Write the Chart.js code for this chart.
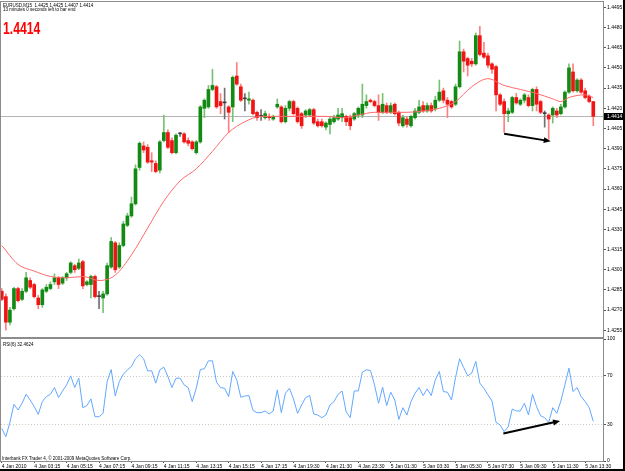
<!DOCTYPE html>
<html>
<head>
<meta charset="utf-8">
<title>EURUSD,M15</title>
<script src="https://cdn.jsdelivr.net/npm/chart.js@4.4.1/dist/chart.umd.min.js"></script>
<style>
  html, body { margin: 0; padding: 0; background: #fff; }
  #wrap { position: relative; width: 625px; height: 471px; overflow: hidden; background: #fff; font-family: "Liberation Sans", Arial, sans-serif; }
  #wrap canvas { position: absolute; left: 0; }
  #priceChart { top: 0; }
  #rsiChart { top: 330px; }
  .txt { position: absolute; font-size: 5px; line-height: 6px; color: #000; white-space: nowrap; transform: scaleX(0.9); transform-origin: 0 0; }
  #bigPrice { position: absolute; left: 3px; top: 21px; font-size: 16px; line-height: 16px; font-weight: bold; color: #f00; transform: scaleX(0.76); transform-origin: 0 0; }
  #frame { position: absolute; left: 0; top: 0; width: 623px; height: 469px; border-right: 2px solid #000; border-bottom: 2px solid #000; pointer-events: none; }
</style>
</head>
<body>
<div id="wrap">
  <canvas id="priceChart" width="625" height="339"></canvas>
  <canvas id="rsiChart" width="625" height="141"></canvas>
  <div class="txt" id="header" style="left:3px;top:1.6px"></div>
  <div class="txt" style="left:3px;top:6.2px">13 minutes 0 seconds left to bar end</div>
  <div id="bigPrice"></div>
  <div class="txt" id="rsiLabel" style="left:3px;top:340.6px"></div>
  <div class="txt" style="left:2px;top:454.6px">Interbank FX Trader 4, © 2001-2009 MetaQuotes Software Corp.</div>
  <div id="frame"></div>
</div>
<script>
const symbol = 'EURUSD';
const period = 'M15';

// M15 bars, 4 Jan 2010 00:00 .. 5 Jan 14:00
const opens = [
  1.4284,1.4280,1.4261,1.4271,1.4286,1.4278,1.4284,1.4292,1.4289,1.4279,1.4274,1.4284,
  1.4286,1.4291,1.4294,1.4290,1.4294,1.4298,1.4303,1.4301,1.4306,1.4289,1.4289,1.4295,
  1.4280,1.4279,1.4282,1.4302,1.4320,1.4302,1.4318,1.4333,1.4340,1.4349,1.4376,1.4392,
  1.4391,1.4381,1.4379,1.4374,1.4396,1.4402,1.4396,1.4387,1.4401,1.4401,1.4396,1.4395,
  1.4387,1.4395,1.4420,1.4421,1.4434,1.4436,1.4425,1.4424,1.4421,1.4421,1.4444,1.4436,
  1.4427,1.4426,1.4426,1.4417,1.4414,1.4413,1.4414,1.4412,1.4421,1.4421,1.4410,1.4420,
  1.4425,1.4420,1.4416,1.4415,1.4415,1.4419,1.4410,1.4410,1.4406,1.4408,1.4410,1.4412,
  1.4413,1.4414,1.4413,1.4412,1.4415,1.4415,1.4422,1.4426,1.4425,1.4422,1.4417,1.4422,
  1.4417,1.4423,1.4417,1.4407,1.4412,1.4407,1.4413,1.4417,1.4422,1.4418,1.4422,1.4420,
  1.4426,1.4433,1.4426,1.4425,1.4423,1.4436,1.4462,1.4457,1.4455,1.4453,1.4474,1.4461,
  1.4459,1.4453,1.4451,1.4430,1.4425,1.4416,1.4417,1.4428,1.4423,1.4426,1.4428,1.4422,
  1.4434,1.4425,1.4416,1.4415,1.4415,1.4418,1.4416,1.4421,1.4432,1.4447,1.4433,1.4441,
  1.4433,1.4429,1.4425
];
const highs = [
  1.4286,1.4282,1.4272,1.4287,1.4287,1.4286,1.4298,1.4294,1.4290,1.4281,1.4286,1.4289,
  1.4291,1.4297,1.4295,1.4295,1.4298,1.4306,1.4304,1.4308,1.4307,1.4292,1.4296,1.4296,
  1.4284,1.4284,1.4305,1.4324,1.4321,1.4320,1.4336,1.4342,1.4354,1.4378,1.4395,1.4395,
  1.4393,1.4387,1.4381,1.4396,1.4415,1.4404,1.4398,1.4401,1.4402,1.4402,1.4398,1.4396,
  1.4396,1.4422,1.4427,1.4437,1.4449,1.4437,1.4431,1.4435,1.4422,1.4444,1.4454,1.4438,
  1.4431,1.4432,1.4427,1.4418,1.4419,1.4418,1.4416,1.4415,1.4427,1.4422,1.4422,1.4426,
  1.4426,1.4421,1.4417,1.4419,1.4420,1.4420,1.4412,1.4412,1.4410,1.4413,1.4415,1.4420,
  1.4420,1.4415,1.4415,1.4417,1.4421,1.4438,1.4430,1.4427,1.4426,1.4430,1.4431,1.4424,
  1.4424,1.4424,1.4418,1.4415,1.4414,1.4415,1.4420,1.4426,1.4425,1.4424,1.4424,1.4429,
  1.4441,1.4435,1.4428,1.4426,1.4438,1.4470,1.4464,1.4458,1.4457,1.4476,1.4481,1.4469,
  1.4461,1.4454,1.4452,1.4431,1.4427,1.4420,1.4429,1.4431,1.4427,1.4431,1.4430,1.4435,
  1.4436,1.4426,1.4418,1.4416,1.4421,1.4420,1.4423,1.4433,1.4453,1.4453,1.4442,1.4442,
  1.4435,1.4430,1.4425
];
const lows = [
  1.4277,1.4255,1.4259,1.4270,1.4276,1.4277,1.4283,1.4286,1.4279,1.4271,1.4272,1.4283,
  1.4285,1.4289,1.4286,1.4289,1.4292,1.4297,1.4298,1.4300,1.4286,1.4288,1.4279,1.4279,
  1.4271,1.4268,1.4281,1.4301,1.4298,1.4301,1.4317,1.4332,1.4339,1.4348,1.4374,1.4387,
  1.4379,1.4373,1.4372,1.4372,1.4395,1.4390,1.4386,1.4386,1.4399,1.4394,1.4392,1.4389,
  1.4386,1.4394,1.4413,1.4420,1.4433,1.4420,1.4416,1.4412,1.4402,1.4410,1.4437,1.4425,
  1.4418,1.4423,1.4415,1.4411,1.4411,1.4412,1.4411,1.4411,1.4420,1.4409,1.4409,1.4418,
  1.4415,1.4409,1.4405,1.4413,1.4414,1.4408,1.4406,1.4406,1.4404,1.4401,1.4409,1.4411,
  1.4410,1.4407,1.4404,1.4411,1.4413,1.4413,1.4420,1.4424,1.4421,1.4411,1.4416,1.4416,
  1.4416,1.4415,1.4407,1.4406,1.4406,1.4406,1.4412,1.4416,1.4417,1.4417,1.4417,1.4418,
  1.4425,1.4424,1.4413,1.4420,1.4422,1.4435,1.4447,1.4444,1.4451,1.4452,1.4459,1.4457,
  1.4450,1.4446,1.4418,1.4422,1.4402,1.4410,1.4416,1.4423,1.4422,1.4424,1.4421,1.4418,
  1.4418,1.4416,1.4406,1.4397,1.4409,1.4413,1.4415,1.4420,1.4431,1.4432,1.4432,1.4431,
  1.4427,1.4424,1.4407
];
const closes = [
  1.4278,1.4261,1.4270,1.4286,1.4277,1.4284,1.4294,1.4287,1.4280,1.4274,1.4285,1.4287,
  1.4289,1.4294,1.4289,1.4294,1.4297,1.4305,1.4300,1.4305,1.4288,1.4291,1.4295,1.4280,
  1.4280,1.4282,1.4303,1.4321,1.4300,1.4318,1.4334,1.4340,1.4349,1.4375,1.4394,1.4389,
  1.4380,1.4380,1.4373,1.4395,1.4402,1.4391,1.4387,1.4400,1.4401,1.4395,1.4394,1.4390,
  1.4395,1.4421,1.4426,1.4434,1.4437,1.4421,1.4422,1.4424,1.4417,1.4443,1.4438,1.4426,
  1.4427,1.4427,1.4416,1.4413,1.4414,1.4416,1.4413,1.4414,1.4423,1.4410,1.4420,1.4425,
  1.4416,1.4410,1.4407,1.4418,1.4419,1.4409,1.4407,1.4407,1.4409,1.4412,1.4413,1.4415,
  1.4416,1.4410,1.4407,1.4416,1.4420,1.4423,1.4425,1.4425,1.4422,1.4417,1.4423,1.4417,
  1.4422,1.4416,1.4409,1.4413,1.4408,1.4414,1.4418,1.4421,1.4418,1.4422,1.4418,1.4426,
  1.4432,1.4426,1.4423,1.4421,1.4436,1.4462,1.4455,1.4452,1.4453,1.4474,1.4460,1.4458,
  1.4452,1.4449,1.4430,1.4423,1.4416,1.4418,1.4428,1.4424,1.4426,1.4430,1.4422,1.4434,
  1.4423,1.4417,1.4416,1.4412,1.4420,1.4415,1.4421,1.4432,1.4450,1.4433,1.4441,1.4432,
  1.4428,1.4425,1.4414
];

// moving average, read at every few bars
const maBars = [0,4,8,12,16,20,24,28,32,36,40,44,48,52,56,60,64,68,72,76,80,84,88,92,96,100,104,108,112,116,120,124,128,132,136,138,140,144,146];
const maValues = [1.4318,1.4304,1.4299,1.4295,1.4294,1.4295,1.4292,1.4296,1.4311,1.4331,1.4351,1.4366,1.4375,1.4388,1.4402,1.4410,1.4414,1.4414,1.4414,1.4414,1.4414,1.4413,1.4415,1.4417,1.4417,1.4417,1.4418,1.4420,1.4425,1.4436,1.4442,1.4437,1.4434,1.4431,1.4427,1.4425,1.4428,1.4430,1.4428];

// RSI(6)
const rsiValues = [
  26.7,19.9,31.7,46.5,41.8,47.3,54.7,50.0,44.6,38.2,48.7,52.8,
  54.7,60.2,52.0,57.4,62.4,69.8,60.2,67.9,43.7,45.4,50.9,36.3,
  36.3,39.1,65.1,75.0,53.3,65.1,71.2,74.7,77.5,83.8,87.1,83.8,
  73.9,73.9,63.8,74.7,76.9,69.2,60.2,67.9,67.9,62.4,60.2,48.7,
  59.6,75.0,75.6,82.1,82.1,64.6,60.2,59.6,52.8,73.4,66.5,52.2,
  53.3,53.6,41.5,39.6,39.6,41.0,38.5,41.0,58.3,39.6,55.5,59.6,
  50.9,39.1,45.9,52.0,53.6,38.5,37.7,35.5,37.7,45.9,48.7,54.7,
  57.4,40.4,35.5,57.4,57.4,72.8,74.7,74.2,62.4,47.3,60.5,45.4,
  56.4,50.0,34.1,43.7,37.7,48.7,55.5,60.2,53.6,59.1,53.6,66.5,
  73.4,56.9,56.4,50.0,68.4,83.8,76.7,69.8,72.0,81.6,63.8,59.6,
  54.2,49.2,31.7,29.5,24.0,28.1,42.6,41.0,41.0,47.3,37.7,54.7,
  44.6,37.1,35.5,31.7,43.7,39.1,49.2,62.4,76.1,56.9,60.2,52.8,
  48.7,43.7,32.4624
];
const rsiLevels = [70, 30];

const priceTicks = [1.4255,1.4270,1.4285,1.4300,1.4315,1.4330,1.4345,1.4360,1.4375,1.4390,1.4405,1.4420,1.4435,1.4450,1.4465,1.4480,1.4495];
const rsiTicks = [0, 30, 70, 100];
const tickBars = [0,8,16,24,32,40,48,56,64,72,80,88,96,104,112,120,128,136,144];
const tickLabels = ['4 Jan 2010','4 Jan 03:15','4 Jan 05:15','4 Jan 07:15','4 Jan 09:15','4 Jan 11:15','4 Jan 13:15','4 Jan 15:15','4 Jan 17:15','4 Jan 19:30','4 Jan 21:30','4 Jan 23:30','5 Jan 01:30','5 Jan 03:30','5 Jan 05:30','5 Jan 07:30','5 Jan 09:30','5 Jan 11:30','5 Jan 13:30'];

// hand drawn arrows (bar index, value)
const priceArrow = [[124, 1.4401], [135.5, 1.43955]];
const rsiArrow = [[123.8, 22.6], [137.8, 32.8]];

const xMin = -0.2, xMax = 148.4;
const last = closes.length - 1;
const lastClose = closes[last];

Chart.defaults.font.family = '"Liberation Sans", Arial, sans-serif';
Chart.defaults.color = '#000';

function candleColor(i, bull, bear, flat) {
  if (closes[i] > opens[i]) return bull;
  if (closes[i] < opens[i]) return bear;
  return flat;
}

function drawArrow(ctx, x0, y0, x1, y1) {
  const a = Math.atan2(y1 - y0, x1 - x0);
  const c = Math.cos(a), s = Math.sin(a);
  ctx.strokeStyle = '#000';
  ctx.fillStyle = '#000';
  ctx.lineWidth = 2;
  ctx.beginPath();
  ctx.moveTo(x0, y0);
  ctx.lineTo(x1 - 4 * c, y1 - 4 * s);
  ctx.stroke();
  ctx.beginPath();
  ctx.moveTo(x1, y1);
  ctx.lineTo(x1 - 7 * c + 3 * s, y1 - 7 * s - 3 * c);
  ctx.lineTo(x1 - 7 * c - 3 * s, y1 - 7 * s + 3 * c);
  ctx.closePath();
  ctx.fill();
}

function frame(ctx, a) {
  ctx.strokeStyle = '#8c8c8c';
  ctx.lineWidth = 1;
  ctx.strokeRect(a.left - 0.5, a.top - 0.5, a.right - a.left + 1, a.bottom - a.top + 1);
}

const xScale = (show) => ({
  type: 'linear',
  display: show,
  min: xMin,
  max: xMax,
  offset: false,
  afterBuildTicks: axis => { axis.ticks = tickBars.map(v => ({ value: v })); },
  afterFit: s => {
    if (!show) return;
    s.height = 10; s.paddingLeft = 0; s.paddingRight = 0;
  },
  border: { display: false },
  grid: { drawOnChartArea: false, offset: false, tickLength: 2, color: '#555' },
  ticks: {
    font: { size: 5 }, align: 'start', maxRotation: 0, autoSkip: false, padding: 1,
    callback: (v, i) => tickLabels[i]
  }
});

const yAxis = (extra) => Object.assign({
  position: 'right',
  afterFit: s => { s.width = 22; s.paddingTop = 0; s.paddingBottom = 0; },
  border: { display: false },
  grid: { drawOnChartArea: false, tickLength: 3, color: '#555' }
}, extra);

const pricePanel = {
  id: 'pricePanel',
  beforeDatasetsDraw(chart) {
    const { ctx, chartArea: a, scales: { y } } = chart;
    const py = Math.round(y.getPixelForValue(lastClose)) + 0.5;
    ctx.save();
    ctx.strokeStyle = '#b4b4b4';
    ctx.lineWidth = 1;
    ctx.beginPath();
    ctx.moveTo(a.left, py);
    ctx.lineTo(a.right, py);
    ctx.stroke();
    ctx.restore();
  },
  afterDraw(chart) {
    const { ctx, chartArea: a, scales: { x, y } } = chart;
    ctx.save();
    frame(ctx, a);
    drawArrow(ctx,
      x.getPixelForValue(priceArrow[0][0]), y.getPixelForValue(priceArrow[0][1]),
      x.getPixelForValue(priceArrow[1][0]), y.getPixelForValue(priceArrow[1][1]));
    // current price box on the axis
    const py = Math.round(y.getPixelForValue(lastClose));
    ctx.fillStyle = '#000';
    ctx.fillRect(a.right + 1, py - 3, 21, 7);
    ctx.fillStyle = '#fff';
    ctx.font = '5px "Liberation Sans", Arial, sans-serif';
    ctx.textBaseline = 'middle';
    ctx.fillText(lastClose.toFixed(4), a.right + 4, py + 0.5);
    ctx.restore();
  }
};

const rsiPanel = {
  id: 'rsiPanel',
  beforeDatasetsDraw(chart) {
    const { ctx, chartArea: a, scales: { y } } = chart;
    ctx.save();
    ctx.strokeStyle = '#d2c8bc';
    ctx.lineWidth = 1;
    ctx.setLineDash([1, 2]);
    rsiLevels.forEach(v => {
      const py = Math.round(y.getPixelForValue(v)) + 0.5;
      ctx.beginPath();
      ctx.moveTo(a.left, py);
      ctx.lineTo(a.right, py);
      ctx.stroke();
    });
    ctx.restore();
  },
  afterDraw(chart) {
    const { ctx, chartArea: a, scales: { x, y } } = chart;
    ctx.save();
    frame(ctx, a);
    drawArrow(ctx,
      x.getPixelForValue(rsiArrow[0][0]), y.getPixelForValue(rsiArrow[0][1]),
      x.getPixelForValue(rsiArrow[1][0]), y.getPixelForValue(rsiArrow[1][1]));
    ctx.restore();
  }
};

function initPriceChart() {
  const bodies = opens.map((o, i) => ({ x: i, y: [o, closes[i]] }));
  const wicks = lows.map((l, i) => ({ x: i, y: [l, highs[i]] }));
  const ma = maBars.map((b, k) => ({ x: b, y: maValues[k] }));

  new Chart(document.getElementById('priceChart'), {
    type: 'bar',
    data: {
      datasets: [
        { type: 'line', data: ma, borderColor: '#ff6a6a', borderWidth: 1, pointRadius: 0, cubicInterpolationMode: 'monotone', order: 0 },
        { data: bodies, barThickness: 3, minBarLength: 1, grouped: false, borderWidth: 0, order: 1,
          backgroundColor: c => candleColor(c.dataIndex, '#138a13', '#f01414', '#3c3c3c') },
        { data: wicks, barThickness: 1, grouped: false, borderWidth: 0, order: 2,
          backgroundColor: c => candleColor(c.dataIndex, '#78c278', '#ff8080', '#707070') }
      ]
    },
    options: {
      responsive: false, animation: false, devicePixelRatio: 1, events: [],
      layout: { padding: { left: 1, top: 2, right: 0, bottom: 2 } },
      plugins: { legend: { display: false }, tooltip: { enabled: false } },
      scales: {
        x: xScale(false),
        y: yAxis({
          min: 1.4250, max: 1.4499,
          afterBuildTicks: axis => { axis.ticks = priceTicks.map(v => ({ value: v })); },
          ticks: { font: { size: 5 }, padding: 1, callback: v => v.toFixed(4) }
        })
      }
    },
    plugins: [pricePanel]
  });
}

function initRsiChart() {
  new Chart(document.getElementById('rsiChart'), {
    type: 'line',
    data: {
      datasets: [{ data: rsiValues.map((v, i) => ({ x: i, y: v })), borderColor: '#62a8ff', borderWidth: 1, pointRadius: 0, tension: 0 }]
    },
    options: {
      responsive: false, animation: false, devicePixelRatio: 1, events: [],
      layout: { padding: { left: 1, top: 9, right: 0, bottom: 0 } },
      plugins: { legend: { display: false }, tooltip: { enabled: false } },
      scales: {
        x: xScale(true),
        y: yAxis({
          min: 0, max: 100,
          afterBuildTicks: axis => { axis.ticks = rsiTicks.map(v => ({ value: v })); },
          ticks: { font: { size: 5 }, padding: 1 }
        })
      }
    },
    plugins: [rsiPanel]
  });
}

document.getElementById('header').textContent =
  `${symbol},${period}\u00a0 ${opens[last].toFixed(4)} ${highs[last].toFixed(4)} ${lows[last].toFixed(4)} ${lastClose.toFixed(4)}`;
document.getElementById('bigPrice').textContent = lastClose.toFixed(4);
document.getElementById('rsiLabel').textContent = `RSI(6) ${rsiValues[last].toFixed(4)}`;

initPriceChart();
initRsiChart();
</script>
</body>
</html>
